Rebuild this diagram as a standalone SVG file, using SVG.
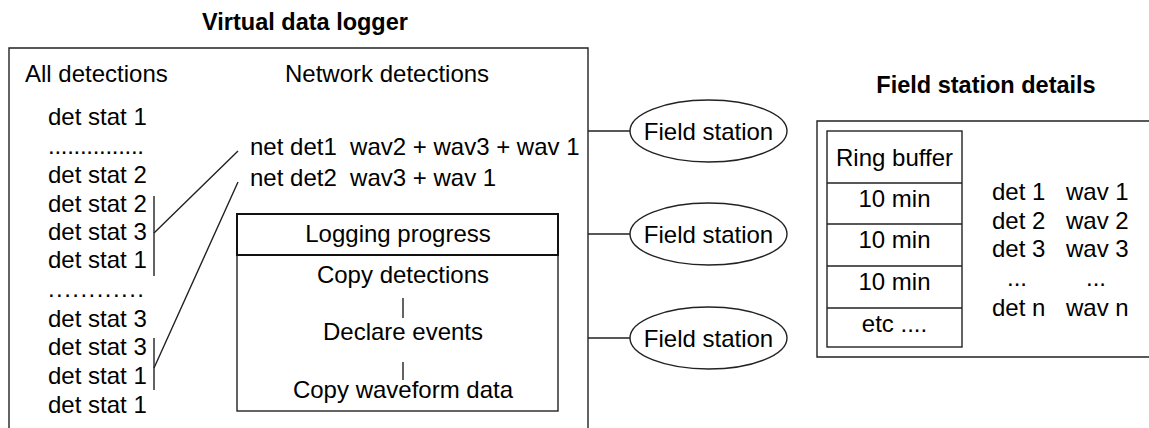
<svg xmlns="http://www.w3.org/2000/svg" width="1149" height="428" viewBox="0 0 1149 428">
<style>
text{font-family:"Liberation Sans",Arial,sans-serif;font-size:24px;fill:#000;white-space:pre}
.h{font-weight:bold;font-size:23.5px}
.m{text-anchor:middle}
.ln{fill:none;stroke:#222;stroke-width:1.4}
</style>
<rect width="1149" height="428" fill="#fff"/>
<g id="logger">
<text class="h m" x="305" y="30">Virtual data logger</text>
<path class="ln" d="M9,428V48H588V428"/>
<text x="25" y="82">All detections</text>
<text x="285" y="82">Network detections</text>
</g>
<g id="all-detections">
<text x="48" y="125">det stat 1</text>
<text x="48" y="154" textLength="96" lengthAdjust="spacing">...............</text>
<text x="48" y="183">det stat 2</text>
<text x="48" y="212">det stat 2</text>
<text x="48" y="240">det stat 3</text>
<text x="48" y="268">det stat 1</text>
<text x="48" y="297" textLength="96" lengthAdjust="spacing">............</text>
<text x="48" y="327">det stat 3</text>
<text x="48" y="355">det stat 3</text>
<text x="48" y="384">det stat 1</text>
<text x="48" y="413">det stat 1</text>
<path class="ln" d="M154,196V276M154,338V390"/>
</g>
<g id="network-detections">
<text x="250" y="155">net det1  wav2 + wav3 + wav 1</text>
<text x="250" y="186">net det2  wav3 + wav 1</text>
</g>
<g id="logging-progress">
<rect x="237" y="214" width="321" height="197" fill="none" stroke="#222" stroke-width="1.4"/>
<rect x="237" y="214" width="321" height="41" fill="none" stroke="#111" stroke-width="2"/>
<text class="m" x="398" y="242">Logging progress</text>
<text class="m" x="403" y="283">Copy detections</text>
<text class="m" x="403" y="340">Declare events</text>
<text class="m" x="403" y="398">Copy waveform data</text>
<path class="ln" d="M403,298V318M403,362V380"/>
</g>
<g id="field-station-1">
<ellipse class="ln" cx="708.5" cy="131" rx="78.5" ry="31"/>
<text class="m" x="708.5" y="140">Field station</text>
</g>
<g id="field-station-2">
<ellipse class="ln" cx="708.5" cy="234" rx="78.5" ry="31"/>
<text class="m" x="708.5" y="243">Field station</text>
</g>
<g id="field-station-3">
<ellipse class="ln" cx="708.5" cy="338" rx="78.5" ry="31"/>
<text class="m" x="708.5" y="347">Field station</text>
</g>
<g id="field-station-details">
<text class="h m" x="986" y="93">Field station details</text>
<path class="ln" d="M1149,121H817V357H1149"/>
<rect class="ln" x="827" y="131" width="135" height="216"/>
<path class="ln" d="M827,183H962M827,224H962M827,266H962M827,308H962"/>
<text class="m" x="894.5" y="166">Ring buffer</text>
<text class="m" x="894.5" y="207">10 min</text>
<text class="m" x="894.5" y="248">10 min</text>
<text class="m" x="894.5" y="290">10 min</text>
<text class="m" x="894.5" y="332">etc ....</text>
<text x="992" y="200">det 1</text>
<text x="992" y="229">det 2</text>
<text x="992" y="257">det 3</text>
<text class="m" x="1017" y="286">...</text>
<text x="992" y="316">det n</text>
<text x="1066" y="200">wav 1</text>
<text x="1066" y="229">wav 2</text>
<text x="1066" y="257">wav 3</text>
<text class="m" x="1096" y="286">...</text>
<text x="1066" y="316">wav n</text>
</g>
<g id="connectors">
<path class="ln" d="M154,233L238,151M154,368L238,182"/>
<path class="ln" d="M588,131H630M588,234H630M588,338H630"/>
</g>
</svg>
